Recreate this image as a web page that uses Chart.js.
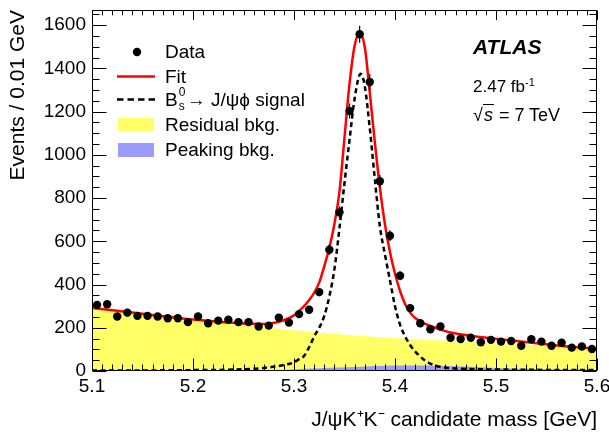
<!DOCTYPE html>
<html><head><meta charset="utf-8">
<script src="https://cdn.jsdelivr.net/npm/chart.js@4/dist/chart.umd.min.js"></script>
<style>
html,body{margin:0;padding:0;background:#fff;}
#wrap{position:relative;width:609px;height:435px;font-family:"Liberation Sans",Arial,sans-serif;color:#000;overflow:hidden;}
canvas{position:absolute;left:0;top:0;}
.t{position:absolute;white-space:nowrap;line-height:20px;font-size:19px;}
.sm{font-size:17px;}
sup{font-size:0.65em;line-height:0;vertical-align:0.55em;}
.bs{position:relative;display:inline-block;width:9px;height:10px;}
.bs span{position:absolute;left:1px;font-size:12px;line-height:12px;}
</style></head><body>
<div id="wrap">
<canvas id="c" width="609" height="435"></canvas>
<div class="t" style="left:165px;top:42px">Data</div>
<div class="t" style="left:165px;top:67px">Fit</div>
<div class="t" style="left:165px;top:90px">B<span class="bs"><span style="top:-10px">0</span><span style="top:4px">s</span></span>→ J/ψϕ signal</div>
<div class="t" style="left:165px;top:115px">Residual bkg.</div>
<div class="t" style="left:165px;top:140px">Peaking bkg.</div>
<div class="t" style="left:473px;top:37px;font-weight:bold;font-style:italic;font-size:21px">ATLAS</div>
<div class="t sm" style="left:473px;top:77px">2.47 fb<sup>-1</sup></div>
<div class="t sm" style="left:473px;top:105px;font-size:18px">√<span style="border-top:1px solid #000;font-style:italic;padding:0 1px">s</span> = 7 TeV</div>
</div>
<script>
// ---- data ----
const massBins = [5.105,5.115,5.125,5.135,5.145,5.155,5.165,5.175,5.185,5.195,
                  5.205,5.215,5.225,5.235,5.245,5.255,5.265,5.275,5.285,5.295,
                  5.305,5.315,5.325,5.335,5.345,5.355,5.365,5.375,5.385,5.395,
                  5.405,5.415,5.425,5.435,5.445,5.455,5.465,5.475,5.485,5.495,
                  5.505,5.515,5.525,5.535,5.545,5.555,5.565,5.575,5.585,5.595];
const counts = [306,309,252,270,255,255,252,244,244,226,
                252,221,233,237,226,226,206,210,247,224,
                263,283,365,561,734,1203,1558,1337,878,626,
                441,291,221,193,206,154,148,154,133,144,
                136,139,117,147,136,117,131,108,113,102];

const fitMass = [5.100,5.150,5.200,5.250,5.270,5.285,5.295,
                 5.300,5.305,5.310,5.315,5.320,5.325,5.330,5.335,5.340,5.345,5.350,5.355,5.360,
                 5.365,5.370,5.375,5.380,5.385,5.390,5.395,5.400,5.405,5.410,5.415,5.420,
                 5.430,5.440,5.455,5.480,5.510,5.545,5.577,5.600];
const fitVals = [292,265,238,220,218,228,244,
                 258,278,300,328,362,410,485,570,680,830,1080,1330,1505,
                 1562,1500,1290,1060,850,680,550,450,370,310,270,245,
                 218,200,178,160,144,126,111,103];

const sigMass = [5.100,5.200,5.250,5.270,5.290,5.300,5.305,5.310,5.315,5.320,5.325,5.330,5.335,
                 5.340,5.345,5.350,5.355,5.360,5.366,5.370,5.375,5.380,5.385,5.390,5.395,5.400,
                 5.405,5.410,5.415,5.420,5.430,5.440,5.460,5.500,5.550,5.600];
const sigVals = [2,4,8,14,28,40,55,70,110,160,200,255,345,
                 470,660,870,1070,1260,1375,1320,1125,890,670,540,420,300,
                 215,160,120,90,48,25,12,7,5,4];

const bkgMass = [5.100,5.150,5.200,5.250,5.300,5.350,5.400,5.450,5.500,5.550,5.600];
const residualVals = [290,262,234,212,188,168,153,140,128,116,105];

const peakMass = [5.100,5.250,5.280,5.300,5.330,5.360,5.400,5.430,5.460,5.500,5.550,5.600];
const peakVals = [0,0,2,8,14,19,25,26,22,14,8,5];

const xTickStep = 0.1, yTickStep = 200;
const xMin = 5.1, xMax = 5.6, yMin = 0, yMax = 1670;

const pts = (xs, ys) => xs.map((x, i) => ({x: x, y: ys[i]}));
const FONT = '"Liberation Sans", Arial, sans-serif';

const framePlugin = {
  id: 'frame',
  afterDatasetsDraw(chart) {
    const {ctx, chartArea: a, scales: {x, y}} = chart;
    ctx.save();
    ctx.strokeStyle = '#000'; ctx.lineWidth = 1.2;
    const meta = chart.getDatasetMeta(0);
    meta.data.forEach((p, i) => {
      const e = Math.sqrt(counts[i]);
      ctx.beginPath();
      ctx.moveTo(p.x, y.getPixelForValue(counts[i] + e));
      ctx.lineTo(p.x, y.getPixelForValue(counts[i] - e));
      ctx.stroke();
    });
    ctx.lineWidth = 1; ctx.strokeStyle = '#000';
    const L = Math.round(a.left) + 0.5, R = Math.round(a.right) - 0.5,
          T = Math.round(a.top) + 0.5, B = Math.round(a.bottom) - 0.5;
    ctx.strokeRect(L, T, R - L, B - T);
    ctx.beginPath();
    for (let k = 0; k <= 50; k++) {
      const v = xMin + k * 0.01;
      const px = Math.round(x.getPixelForValue(v)) + 0.5;
      const len = (k % 10 === 0) ? 12 : 6;
      ctx.moveTo(px, B); ctx.lineTo(px, B - len);
      ctx.moveTo(px, T); ctx.lineTo(px, T + len * 0.8);
    }
    for (let v = 0; v <= yMax; v += 50) {
      const py = Math.round(y.getPixelForValue(v)) + 0.5;
      const len = (v % 200 === 0) ? 14 : 7;
      ctx.moveTo(L, py); ctx.lineTo(L + len, py);
      ctx.moveTo(R, py); ctx.lineTo(R - len, py);
    }
    ctx.stroke();
    ctx.restore();
  },
  afterDraw(chart) {
    const ctx = chart.ctx;
    const ds = chart.data.datasets;
    ctx.save();
    ctx.fillStyle = ds[0].pointBackgroundColor;
    ctx.beginPath(); ctx.arc(137, 52, 4.2, 0, Math.PI * 2); ctx.fill();
    ctx.strokeStyle = ds[1].borderColor; ctx.lineWidth = 2.5;
    ctx.beginPath(); ctx.moveTo(117, 76.5); ctx.lineTo(155, 76.5); ctx.stroke();
    ctx.strokeStyle = ds[2].borderColor; ctx.setLineDash([6.5, 4]);
    ctx.beginPath(); ctx.moveTo(117, 99.5); ctx.lineTo(155, 99.5); ctx.stroke();
    ctx.setLineDash([]);
    ctx.fillStyle = ds[4].backgroundColor; ctx.fillRect(118, 118, 36, 14);
    ctx.fillStyle = ds[3].backgroundColor; ctx.fillRect(118, 143, 36, 14);
    ctx.restore();
  }
};

new Chart(document.getElementById('c'), {
  type: 'line',
  data: {
    datasets: [
      {label: 'Data', type: 'scatter', data: pts(massBins, counts), showLine: false,
       pointRadius: 4.2, pointBackgroundColor: '#000', pointBorderWidth: 0, order: 0},
      {label: 'Fit', data: pts(fitMass, fitVals), borderColor: '#ff0000', borderWidth: 2.5,
       pointRadius: 0, cubicInterpolationMode: 'monotone', fill: false, order: 1},
      {label: 'B_s^0 → J/ψφ signal', data: pts(sigMass, sigVals), borderColor: '#000', borderWidth: 2.5,
       borderDash: [5, 3.5], pointRadius: 0, cubicInterpolationMode: 'monotone', fill: false, order: 2},
      {label: 'Peaking bkg.', data: pts(peakMass, peakVals), borderWidth: 0, borderColor: 'rgba(0,0,0,0)',
       backgroundColor: '#9b9bfb', fill: 'origin', pointRadius: 0, cubicInterpolationMode: 'monotone', order: 3},
      {label: 'Residual bkg.', data: pts(bkgMass, residualVals), borderWidth: 0, borderColor: 'rgba(0,0,0,0)',
       backgroundColor: '#ffff66', fill: 'origin', pointRadius: 0, cubicInterpolationMode: 'monotone', order: 4}
    ]
  },
  options: {
    responsive: false, animation: false, devicePixelRatio: 1,
    layout: {padding: {top: 10, right: 12, left: 0, bottom: 0}},
    plugins: {legend: {display: false}, tooltip: {enabled: false}},
    scales: {
      x: {
        type: 'linear', min: xMin, max: xMax,
        grid: {display: false, drawTicks: false}, border: {display: false},
        ticks: {stepSize: xTickStep, autoSkip: false, maxRotation: 0, includeBounds: false,
                callback: v => Number(v).toFixed(1), color: '#000', padding: 4,
                font: {family: FONT, size: 19}},
        title: {display: true, text: 'J/ψK⁺K⁻ candidate mass [GeV]', align: 'end', color: '#000',
                font: {family: FONT, size: 21}, padding: {top: 0, bottom: 2}},
        afterFit(s) { s.height = 64; s.paddingLeft = 0; s.paddingRight = 0; }
      },
      y: {
        min: yMin, max: yMax,
        grid: {display: false, drawTicks: false}, border: {display: false},
        ticks: {stepSize: yTickStep, includeBounds: false, color: '#000', padding: 6,
                callback: v => String(v), font: {family: FONT, size: 19}},
        title: {display: true, text: 'Events / 0.01 GeV', align: 'end', color: '#000',
                font: {family: FONT, size: 21}, padding: {top: 6, bottom: 0}},
        afterFit(s) { s.width = 92; s.paddingTop = 0; s.paddingBottom = 0; }
      }
    }
  },
  plugins: [framePlugin]
});
</script>
</body></html>
